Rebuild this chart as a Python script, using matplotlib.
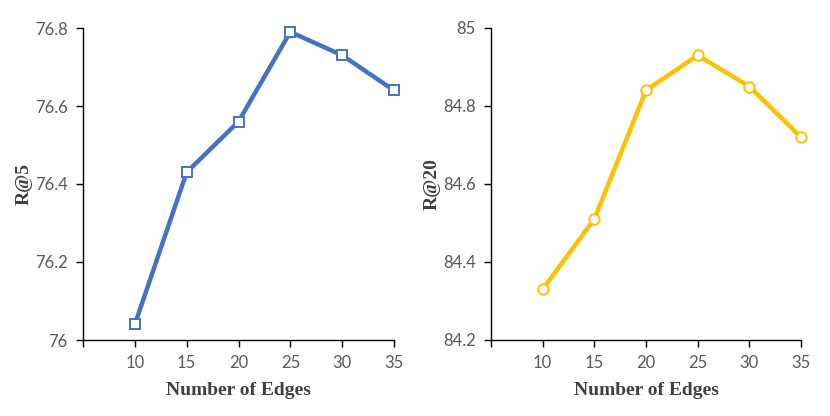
import matplotlib
matplotlib.use("Agg")
import matplotlib.pyplot as plt

edges = [10, 15, 20, 25, 30, 35]
r5 = [76.04, 76.43, 76.56, 76.79, 76.73, 76.64]
r20 = [84.33, 84.51, 84.84, 84.93, 84.85, 84.72]
xticks = [5, 10, 15, 20, 25, 30, 35]
xticklabels = ["", "10", "15", "20", "25", "30", "35"]
r5_ticks = [76, 76.2, 76.4, 76.6, 76.8]
r5_labels = ["76", "76.2", "76.4", "76.6", "76.8"]
r20_ticks = [84.2, 84.4, 84.6, 84.8, 85]
r20_labels = ["84.2", "84.4", "84.6", "84.8", "85"]

fig = plt.figure(figsize=(8.3, 4.16), dpi=100)
ax1 = fig.add_axes([83/830, 1-340/416, (394-83)/830, (340-28)/416])
ax2 = fig.add_axes([491/830, 1-340/416, (801-491)/830, (340-28)/416])

tick_font = dict(family="Lato", size=12, color="#595959")
label_font = dict(family="Liberation Serif", size=14, weight="bold", color="#404040")

def style(ax, y, color, marker, yticks, ylabels, ylim, ylabel):
    ax.plot(edges, y, color=color, lw=3.2, marker=marker, markersize=7.5,
            markerfacecolor="white", markeredgecolor=color, markeredgewidth=1.4,
            solid_joinstyle="round", clip_on=False, zorder=3)
    ax.set_xlim(5, 35)
    ax.set_ylim(*ylim)
    ax.set_xticks(xticks)
    ax.set_xticklabels(xticklabels, fontdict=tick_font)
    ax.set_yticks(yticks)
    ax.set_yticklabels(ylabels, fontdict=tick_font)
    for s in ["top", "right"]:
        ax.spines[s].set_visible(False)
    for s in ["left", "bottom"]:
        ax.spines[s].set_color("#000000")
        ax.spines[s].set_linewidth(1.0)
    ax.tick_params(direction="out", length=5, width=1.0, color="#000000", pad=6)
    ax.set_xlabel("Number of Edges", fontdict=label_font, labelpad=8)
    ax.set_ylabel(ylabel, fontdict=label_font, labelpad=2)
    for lbl in ax.get_xticklabels() + ax.get_yticklabels():
        lbl.set_color("#595959")

style(ax1, r5, "#4472C4", "s", r5_ticks, r5_labels, (76, 76.8), "R@5")
style(ax2, r20, "#FFC000", "o", r20_ticks, r20_labels, (84.2, 85), "R@20")

fig.savefig("out.png", dpi=100)
